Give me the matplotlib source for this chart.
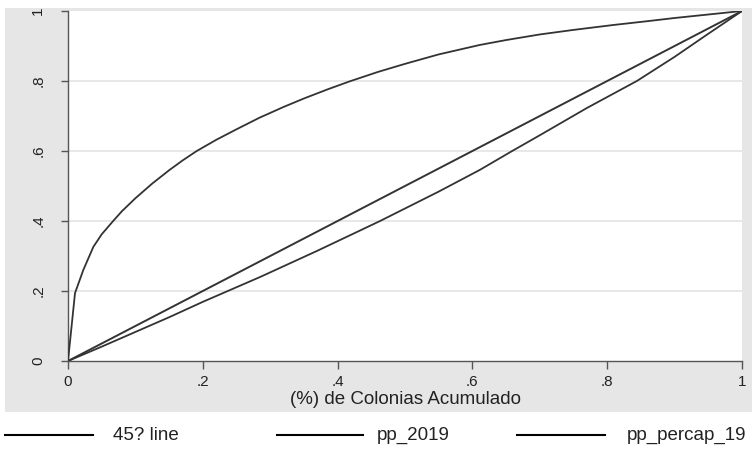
import matplotlib
matplotlib.use("Agg")
import matplotlib.pyplot as plt
from matplotlib.lines import Line2D
from matplotlib.patches import Rectangle

plt.rcParams['font.family'] = ['Liberation Sans', 'DejaVu Sans']

# Data
line45_x = [0, 1]
line45_y = [0, 1]

pp2019_x = [0, 0.05, 0.1, 0.15, 0.2, 0.285, 0.37, 0.463, 0.55, 0.611, 0.659, 0.70, 0.77, 0.844, 0.90, 0.95, 1.0]
pp2019_y = [0, 0.041, 0.083, 0.125, 0.169, 0.24, 0.315, 0.40, 0.484, 0.546, 0.60, 0.645, 0.723, 0.80, 0.869, 0.935, 1.0]

percap_x = [0, 0.0104, 0.0227, 0.0376, 0.05, 0.067, 0.08, 0.1, 0.125, 0.15, 0.17, 0.191, 0.22, 0.25, 0.284,
            0.32, 0.35, 0.385, 0.418, 0.46, 0.5, 0.55, 0.611, 0.65, 0.7, 0.75, 0.809, 0.86, 0.9, 0.95, 1.0]
percap_y = [0, 0.194, 0.26, 0.326, 0.362, 0.40, 0.428, 0.465, 0.507, 0.545, 0.573, 0.60, 0.632, 0.662, 0.695,
            0.726, 0.750, 0.776, 0.799, 0.826, 0.849, 0.876, 0.903, 0.917, 0.933, 0.946, 0.96, 0.971, 0.98, 0.99, 1.0]

xticks = [0, 0.2, 0.4, 0.6, 0.8, 1]
xtick_labels = ["0", ".2", ".4", ".6", ".8", "1"]
yticks = [0, 0.2, 0.4, 0.6, 0.8, 1]
ytick_labels = ["0", ".2", ".4", ".6", ".8", "1"]
legend_labels = ["45? line", "pp_2019", "pp_percap_19"]
xlabel = "(%) de Colonias Acumulado"

W, H = 752, 449
fig = plt.figure(figsize=(W / 100, H / 100), dpi=100)
fig.patch.set_facecolor('white')

# gray graph region
fig.add_artist(Rectangle((5 / W, 1 - 412 / H), (W - 5) / W, (412 - 8) / H,
                         transform=fig.transFigure, facecolor='#e6e6e6',
                         edgecolor='none', zorder=0))

ax = fig.add_axes([68 / W, 1 - 361 / H, (742 - 68) / W, (361 - 11) / H])
ax.set_facecolor('white')
ax.set_xlim(0, 1)
ax.set_ylim(0, 1)

for g in [0.2, 0.4, 0.6, 0.8]:
    ax.axhline(g, color='#e4e4e4', lw=1.2, zorder=1)

lc = '#333333'
ax.plot(line45_x, line45_y, color=lc, lw=1.4, zorder=3)
ax.plot(pp2019_x, pp2019_y, color=lc, lw=1.3, zorder=3)
ax.plot(percap_x, percap_y, color=lc, lw=1.3, zorder=3)

for s in ['top', 'right']:
    ax.spines[s].set_visible(False)
for s in ['left', 'bottom']:
    ax.spines[s].set_color('#555555')
    ax.spines[s].set_linewidth(1.0)

ax.set_xticks(xticks)
ax.set_xticklabels(xtick_labels, fontsize=11, color='#222222')
ax.set_yticks(yticks)
ax.set_yticklabels(ytick_labels, fontsize=11, color='#222222', rotation=90, va='center')
ax.tick_params(axis='both', direction='out', length=5.4, width=1.0, color='#555555')
ax.tick_params(axis='x', pad=5)
ax.tick_params(axis='y', pad=11)

fig.text(405 / W, 1 - 399 / H, xlabel, fontsize=13.5, color='#222222', ha='center', va='center')

# legend
leg_y = 1 - 435 / H
cols = [(5, 93, 113), (277, 363, 377), (517, 605, 627)]
for (x0, x1, tx), lab in zip(cols, legend_labels):
    fig.add_artist(Line2D([x0 / W, x1 / W], [leg_y, leg_y], transform=fig.transFigure,
                          color='black', lw=1.5))
    fig.text(tx / W, leg_y, lab, fontsize=13.5, color='#222222', va='center', ha='left')

fig.savefig('out.png', dpi=100)
